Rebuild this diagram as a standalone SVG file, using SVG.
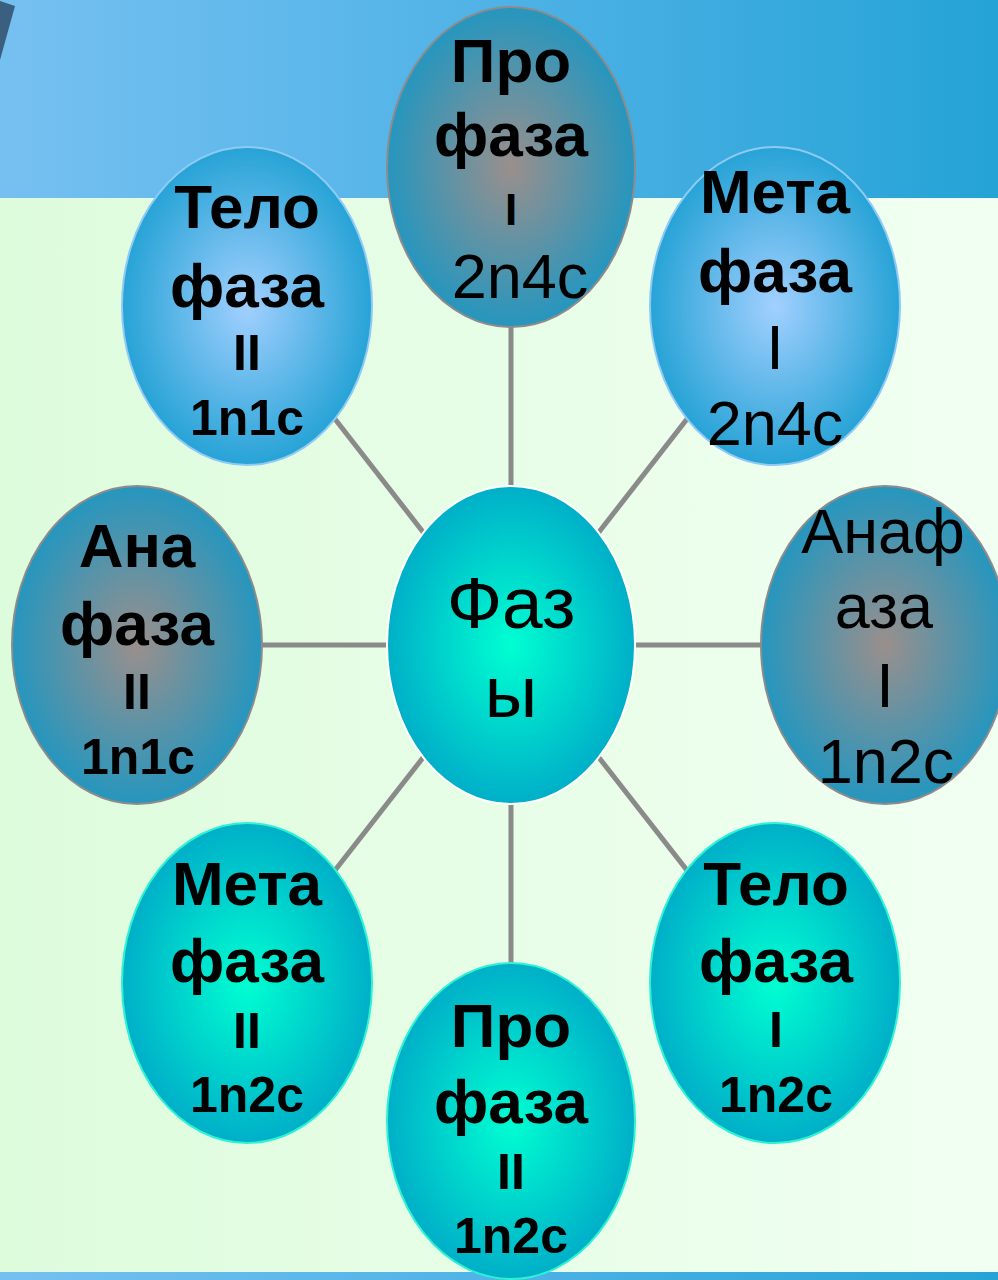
<svg xmlns="http://www.w3.org/2000/svg" width="998" height="1280" viewBox="0 0 998 1280">
<defs>
<linearGradient id="bg" x1="0" y1="0" x2="1" y2="0">
<stop offset="0" stop-color="#ddfcdc"/><stop offset="1" stop-color="#f1fff2"/>
</linearGradient>
<linearGradient id="band" x1="0" y1="0" x2="1" y2="0">
<stop offset="0" stop-color="#76c0f1"/><stop offset="0.5" stop-color="#4fb2e6"/><stop offset="1" stop-color="#25a3d6"/>
</linearGradient>
<radialGradient id="gA" cx="0.5" cy="0.5" r="0.5">
<stop offset="0" stop-color="#9a8f8c"/><stop offset="1" stop-color="#2696be"/>
</radialGradient>
<radialGradient id="gB" cx="0.5" cy="0.5" r="0.5">
<stop offset="0" stop-color="#a2d0ff"/><stop offset="1" stop-color="#27a3d6"/>
</radialGradient>
<radialGradient id="gC" cx="0.5" cy="0.5" r="0.5">
<stop offset="0" stop-color="#00ffd2"/><stop offset="1" stop-color="#00afc8"/>
</radialGradient>
</defs>
<style>
.a{fill:url(#gA);stroke:#8c8c8c;stroke-width:2}
.b{fill:url(#gB);stroke:#8fcaf5;stroke-width:2}
.c{fill:url(#gC);stroke:#2ef2d4;stroke-width:2}
.ctr{fill:url(#gC);stroke:#ffffff;stroke-width:2}
text{font-family:"Liberation Sans",Arial,sans-serif;fill:#000;text-anchor:middle}
.t{font-size:62px;font-weight:bold}
.s{font-size:50px;font-weight:bold}
.n{font-size:63px}
.big{font-size:73px}
.conn line{stroke:#8a8a8a;stroke-width:5}
</style>
<rect x="0" y="0" width="998" height="1280" fill="url(#bg)"/>
<rect x="0" y="0" width="998" height="198" fill="url(#band)"/>
<rect x="0" y="1272" width="998" height="8" fill="url(#band)"/>
<polygon points="0,1 15,6 0,60" fill="#3a5f7f"/>
<g class="conn">
<line x1="511" y1="645" x2="511" y2="167"/>
<line x1="511" y1="645" x2="511" y2="1121"/>
<line x1="511" y1="645" x2="137" y2="645"/>
<line x1="511" y1="645" x2="885" y2="645"/>
<line x1="511" y1="645" x2="247" y2="306"/>
<line x1="511" y1="645" x2="775" y2="306"/>
<line x1="511" y1="645" x2="247" y2="983"/>
<line x1="511" y1="645" x2="775" y2="983"/>
</g>
<g id="center">
<ellipse class="ctr" cx="511" cy="645" rx="124" ry="159"/>
<text class="big" x="511" y="628">Фаз</text>
<text class="big" x="511" y="717">ы</text>
</g>
<g id="prophase1">
<ellipse class="a" cx="511" cy="167" rx="124" ry="160"/>
<text class="t" x="511" y="82">Про</text>
<text class="t" x="511" y="156">фаза</text>
<text class="t" x="511" y="225" style="font-size:44px">I</text>
<text class="n" x="520" y="298">2n4c</text>
</g>
<g id="metaphase1">
<ellipse class="b" cx="775" cy="306" rx="125" ry="159"/>
<text class="t" x="775" y="213">Мета</text>
<text class="t" x="775" y="292">фаза</text>
<text class="n" x="775" y="369">I</text>
<text class="n" x="775" y="445">2n4c</text>
</g>
<g id="anaphase1">
<ellipse class="a" cx="885" cy="645" rx="124" ry="159"/>
<text class="n" x="883" y="553">Анаф</text>
<text class="n" x="884" y="628">аза</text>
<text class="n" x="885" y="707">I</text>
<text class="n" x="886" y="783">1n2c</text>
</g>
<g id="telophase1">
<ellipse class="c" cx="775" cy="983" rx="125" ry="160"/>
<text class="t" x="776" y="905">Тело</text>
<text class="t" x="776" y="982">фаза</text>
<text class="s" x="776" y="1047">I</text>
<text class="s" x="776" y="1112">1n2c</text>
</g>
<g id="prophase2">
<ellipse class="c" cx="511" cy="1121" rx="124" ry="158"/>
<text class="t" x="511" y="1047">Про</text>
<text class="t" x="511" y="1123">фаза</text>
<text class="s" x="511" y="1189">II</text>
<text class="s" x="511" y="1253">1n2c</text>
</g>
<g id="metaphase2">
<ellipse class="c" cx="247" cy="983" rx="125" ry="160"/>
<text class="t" x="247" y="905">Мета</text>
<text class="t" x="247" y="982">фаза</text>
<text class="s" x="247" y="1048">II</text>
<text class="s" x="247" y="1112">1n2c</text>
</g>
<g id="anaphase2">
<ellipse class="a" cx="137" cy="645" rx="125" ry="159"/>
<text class="t" x="137" y="567">Ана</text>
<text class="t" x="137" y="645">фаза</text>
<text class="s" x="137" y="709">II</text>
<text class="s" x="138" y="774">1n1c</text>
</g>
<g id="telophase2">
<ellipse class="b" cx="247" cy="306" rx="125" ry="159"/>
<text class="t" x="247" y="228">Тело</text>
<text class="t" x="247" y="307">фаза</text>
<text class="s" x="247" y="370">II</text>
<text class="s" x="247" y="435">1n1c</text>
</g>
</svg>
